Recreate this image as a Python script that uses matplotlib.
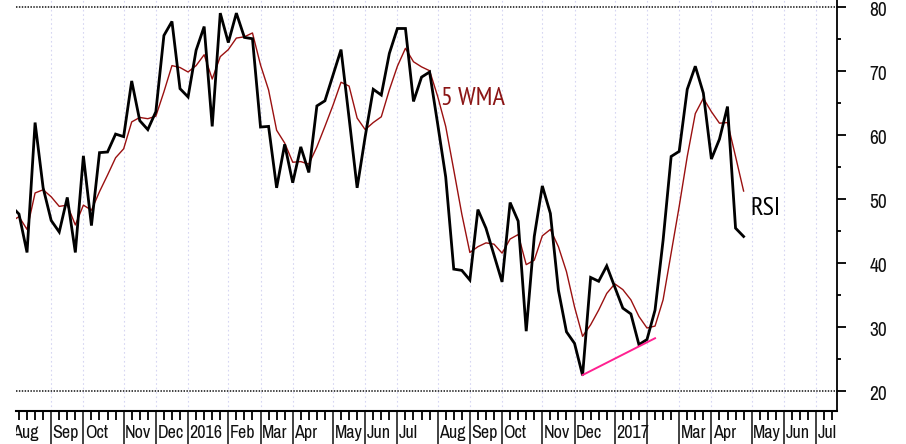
import matplotlib
matplotlib.use('Agg')
import matplotlib.pyplot as plt
from matplotlib import font_manager
from matplotlib.transforms import Bbox, TransformedBbox, blended_transform_factory, ScaledTranslation

names = {f.name for f in font_manager.fontManager.ttflist}
def pick(*cands):
    for c in cands:
        if c in names:
            return c
    return 'DejaVu Sans'
AXIS_FONT = pick('Archivo Narrow', 'Roboto Condensed', 'PT Sans Narrow')
LABEL_FONT = pick('PT Sans Narrow', 'Fira Sans Condensed', 'Roboto Condensed')
plt.rcParams['font.family'] = [AXIS_FONT, 'DejaVu Sans']

# ---------------- data (weekly) ----------------
first_week = -1
rsi = [48.9, 47.6, 41.6, 61.9, 51.7, 46.6, 44.8, 50.2, 41.6, 56.7, 45.8,
       57.2, 57.3, 60.1, 59.7, 68.4, 62.2, 60.8, 63.6, 75.5, 77.7,
       67.2, 65.9, 73.2, 76.9, 61.3, 79.0, 74.4, 79.0, 75.2, 75.0,
       61.2, 61.3, 51.7, 58.5, 52.5, 58.1, 54.1, 64.5, 65.3, 69.3,
       73.3, 62.6, 51.7, 59.7, 67.1, 66.2, 72.7, 76.6, 76.6, 65.2,
       69.0, 69.8, 61.7, 53.4, 39.0, 38.8, 37.3, 48.3, 45.4, 41.2,
       37.0, 49.4, 46.5, 29.3, 44.1, 52.0, 47.7, 35.7, 29.2, 27.4,
       22.4, 37.7, 37.1, 39.5, 36.2, 32.9, 32.0, 27.2, 28.0, 32.6,
       43.5, 56.6, 57.4, 67.1, 70.7, 66.5, 56.2, 59.3, 64.4, 45.4,
       44.1]
wma5 = [46.4, 47.2, 45.2, 50.9, 51.4, 50.3, 48.8, 49.0, 45.9, 49.0, 48.2,
        51.1, 53.7, 56.4, 57.8, 62.0, 62.7, 62.5, 62.9, 66.7, 70.8,
        70.5, 69.8, 70.8, 72.5, 68.7, 72.2, 73.3, 75.1, 75.3, 75.9,
        70.9, 67.0, 60.7, 58.7, 55.7, 55.8, 55.4, 58.1, 61.3, 64.6,
        68.2, 67.6, 62.6, 60.8, 61.9, 62.8, 67.0, 70.7, 73.5, 71.4,
        70.6, 70.0, 66.0, 61.3, 54.5, 47.6, 41.6, 42.5, 43.1, 42.9,
        41.5, 43.7, 44.4, 39.7, 40.4, 44.2, 45.2, 42.5, 38.6, 33.1,
        28.5, 30.3, 32.6, 35.2, 36.7, 35.8, 34.2, 31.6, 29.8, 30.1,
        34.2, 41.5, 48.8, 56.6, 63.3, 65.7, 63.6, 61.8, 61.9, 56.6,
        51.2]
weeks = list(range(first_week, first_week + len(rsi)))

month_labels = ['Aug', 'Sep', 'Oct', 'Nov', 'Dec', '2016', 'Feb', 'Mar', 'Apr',
                'May', 'Jun', 'Jul', 'Aug', 'Sep', 'Oct', 'Nov', 'Dec', '2017',
                '', 'Mar', 'Apr', 'May', 'Jun', 'Jul']
month_start_week = [-1, 4, 8, 13, 17, 21, 26, 30, 34, 39, 43, 47, 52, 56, 60,
                    65, 69, 74, 78, 82, 86, 91, 95, 99]
last_week = 101

divergence_weeks = [70, 79]
divergence_values = [22.45, 28.2]

y_major = [20, 30, 40, 50, 60, 70, 80]
y_minor = [25, 35, 45, 55, 65, 75]
ref_levels = [20, 80]

# ---------------- figure ----------------
W, H = 906, 444
fig = plt.figure(figsize=(W / 100, H / 100), dpi=100)
ax = fig.add_axes([16 / W, 33 / H, (837 - 16) / W, 411 / H])
ax.set_xlim(-0.37, 101.6)
ax.set_ylim(16.83, 81.05)

for s in ['left', 'top']:
    ax.spines[s].set_visible(False)
ax.spines['right'].set_linewidth(1.3)
ax.spines['bottom'].set_linewidth(1.5)

# vertical month grid
for w in month_start_week:
    if w >= ax.get_xlim()[0]:
        ax.axvline(w, color='#d6d6f2', lw=0.8, ls=(0, (1.5, 2.5)), zorder=0)

# reference levels
for lv in ref_levels:
    ax.axhline(lv, color='#333333', lw=1.3, ls=(0, (0.8, 0.8)), zorder=1)

# series
ax.plot(weeks, wma5, color='#9a1010', lw=1.0, zorder=3)
ax.plot(weeks, rsi, color='black', lw=2.0, zorder=4, solid_joinstyle='miter')
ax.plot(divergence_weeks, divergence_values, color='#ff2090', lw=1.4, zorder=5)

ax.text(52.4, 65.6, '5 WMA', color='#8b1515', fontsize=19, ha='left', va='center',
        family=[LABEL_FONT, 'DejaVu Sans'])
ax.text(90.8, 48.5, 'RSI', color='black', fontsize=19, ha='left', va='center',
        family=[LABEL_FONT, 'DejaVu Sans'])

# right y axis
ax.yaxis.tick_right()
ax.set_yticks(y_major)
ax.set_yticks(y_minor, minor=True)
ax.tick_params(axis='y', which='major', length=6.5, width=1.3, direction='out', labelright=False, labelleft=False)
ax.tick_params(axis='y', which='minor', length=3.2, width=1.3, direction='out', labelright=False, labelleft=False)
ytrans = blended_transform_factory(ax.transAxes, ax.transData)
for v in y_major:
    ax.text(1.0, v, str(v), transform=ytrans + ScaledTranslation(41 / 100, -4 / 100, fig.dpi_scale_trans),
            ha='center', va='center', fontsize=14, color='#111111', clip_on=False)

# bottom axis: weekly ticks + month separators + labels
wk_ticks = [w for w in range(first_week, last_week + 1) if w not in month_start_week]
ax.set_xticks(wk_ticks)
ax.tick_params(axis='x', which='major', length=6.5, width=1.3, direction='out', labelbottom=False)

xtrans = blended_transform_factory(ax.transData, ax.transAxes)
clipbb = TransformedBbox(Bbox([[0.0, -0.2], [1.0, 1.0]]), ax.transAxes)
for w, lab in zip(month_start_week, month_labels):
    if w >= ax.get_xlim()[0]:
        ax.plot([w, w], [0, -33 / 411], transform=xtrans, color='#333333', lw=1.3, clip_on=False)
    t = ax.text(w, -22 / 411, lab, transform=xtrans + ScaledTranslation(1.5 / 100, 0, fig.dpi_scale_trans),
                ha='left', va='center', fontsize=13, color='#111111')
    t.set_clip_path(None)
    t.set_clip_box(clipbb)
    t.set_clip_on(True)

fig.savefig('out.png', dpi=100)
